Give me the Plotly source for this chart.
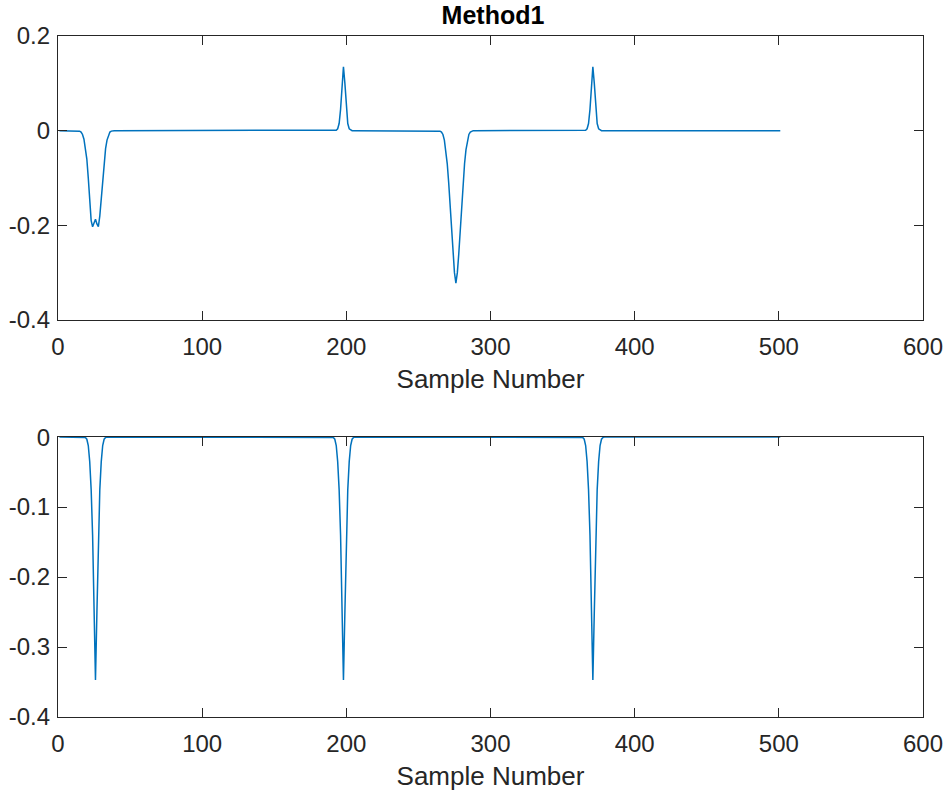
import numpy as np
import plotly.graph_objects as go
from plotly.subplots import make_subplots

# Sample axis
n_samples = 501
samples = list(range(1, n_samples + 1))

# Top panel (Method1): baseline value and the local events (start sample, values)
top_baseline = 0.0
top_event1_start = 15
top_event1 = [-0.001, -0.003, -0.008, -0.018, -0.035, -0.06, -0.1, -0.15, -0.19, -0.203,
              -0.195, -0.187, -0.197, -0.203, -0.18, -0.14, -0.1, -0.065, -0.038, -0.02,
              -0.009, -0.003, -0.001]
top_event2_start = 193
top_event2 = [0.001, 0.004, 0.015, 0.045, 0.1, 0.135, 0.1, 0.045, 0.015, 0.004, 0.001]
top_event3_start = 265
top_event3 = [-0.001, -0.003, -0.008, -0.02, -0.04, -0.07, -0.11, -0.16, -0.21, -0.26,
              -0.3, -0.322, -0.3, -0.26, -0.21, -0.16, -0.11, -0.07, -0.04, -0.02,
              -0.008, -0.003, -0.001]
top_event4_start = 366
top_event4 = [0.001, 0.004, 0.015, 0.045, 0.1, 0.135, 0.1, 0.045, 0.015, 0.004, 0.001]

# Bottom panel: baseline and three narrow dips
bottom_baseline = 0.0
bottom_dip_starts = [19, 191, 364]
bottom_dip = [-0.0005, -0.003, -0.012, -0.035, -0.075, -0.14, -0.25, -0.347,
              -0.25, -0.14, -0.075, -0.035, -0.012, -0.003, -0.0005]

x_ticks = [0, 100, 200, 300, 400, 500, 600]
top_y_ticks = [-0.4, -0.2, 0, 0.2]
top_y_labels = ["-0.4", "-0.2", "0", "0.2"]
bottom_y_ticks = [-0.4, -0.3, -0.2, -0.1, 0]
bottom_y_labels = ["-0.4", "-0.3", "-0.2", "-0.1", "0"]


def place(series, start, values):
    i0 = start - samples[0]
    series[i0:i0 + len(values)] = values


top_signal = np.full(n_samples, top_baseline)
for s, v in [(top_event1_start, top_event1), (top_event2_start, top_event2),
             (top_event3_start, top_event3), (top_event4_start, top_event4)]:
    place(top_signal, s, v)

bottom_signal = np.full(n_samples, bottom_baseline)
for s in bottom_dip_starts:
    place(bottom_signal, s, bottom_dip)

line_color = "#0072BD"
axis_color = "#262626"
font_family = "Liberation Sans, Arial, Helvetica, sans-serif"

fig = make_subplots(rows=2, cols=1, vertical_spacing=0.0)
fig.add_trace(go.Scatter(x=samples, y=top_signal, mode="lines",
                         line=dict(color=line_color, width=1.5), showlegend=False),
              row=1, col=1)
fig.add_trace(go.Scatter(x=samples, y=bottom_signal, mode="lines",
                         line=dict(color=line_color, width=1.5), showlegend=False),
              row=2, col=1)

common_axis = dict(showline=True, linecolor=axis_color, linewidth=1.3, mirror="ticks",
                   ticks="inside", ticklen=9, tickwidth=1.3, tickcolor=axis_color,
                   showgrid=False, zeroline=False, automargin=False,
                   tickfont=dict(family=font_family, size=24, color=axis_color))

fig.update_xaxes(range=[0, 600], tickvals=x_ticks, ticktext=[str(t) for t in x_ticks],
                 ticklabelstandoff=5,
                 title=dict(text="Sample Number", standoff=10,
                            font=dict(family=font_family, size=26, color=axis_color)),
                 **common_axis)
fig.update_yaxes(ticklabelstandoff=2, **common_axis)
fig.update_yaxes(range=[-0.4, 0.2], tickvals=top_y_ticks, ticktext=top_y_labels,
                 domain=[0.583, 1.0], row=1, col=1)
fig.update_yaxes(range=[-0.4, 0.0], tickvals=bottom_y_ticks, ticktext=bottom_y_labels,
                 domain=[0.0, 0.411], row=2, col=1)

fig.update_layout(
    width=947, height=794,
    margin=dict(l=58, r=24, t=36, b=77, autoexpand=False),
    paper_bgcolor="white", plot_bgcolor="white",
    title=dict(text="<b>Method1</b>", x=493 / 947, xanchor="center",
               y=1 - 15 / 794, yanchor="middle", yref="container",
               font=dict(family=font_family, size=25, color="#000000")),
)

fig.write_html("out.html")
